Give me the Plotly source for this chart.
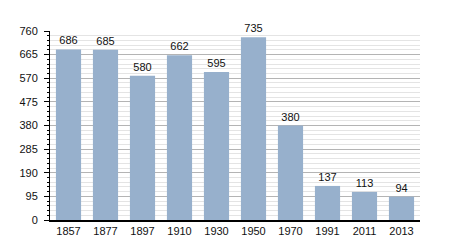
import plotly.graph_objects as go

years = ["1857", "1877", "1897", "1910", "1930", "1950", "1970", "1991", "2011", "2013"]
population = [686, 685, 580, 662, 595, 735, 380, 137, 113, 94]
y_ticks = [0, 95, 190, 285, 380, 475, 570, 665, 760]

fig = go.Figure(go.Bar(
    x=years, y=population,
    marker=dict(color="#97b0cc", line=dict(width=0)),
    text=[str(v) for v in population],
    textposition="outside",
    textfont=dict(family="Liberation Sans, Arial", size=11, color="#111"),
    cliponaxis=False,
))

fig.update_layout(
    width=450, height=250,
    margin=dict(l=50, r=30, t=31, b=30),
    paper_bgcolor="white", plot_bgcolor="white",
    bargap=0.32,
    showlegend=False,
    font=dict(family="Liberation Sans, Arial", size=11, color="#111"),
)
fig.update_xaxes(
    type="category",
    showline=True, linecolor="black", linewidth=1.5,
    ticks="", showgrid=False,
    tickfont=dict(size=11),
)
fig.update_yaxes(
    range=[0, 760],
    tickvals=y_ticks,
    showline=True, linecolor="black", linewidth=1,
    ticks="outside", ticklen=5, tickcolor="black", tickwidth=1,
    showgrid=True, gridcolor="#b4b4b4", gridwidth=1,
    zeroline=False,
    ticklabelstandoff=4,
    tickfont=dict(size=11),
    minor=dict(dtick=19, tick0=0, ticks="outside", ticklen=2, tickcolor="black",
               showgrid=True, gridcolor="#e4e4e4", gridwidth=1),
)

fig.write_html("out.html")
